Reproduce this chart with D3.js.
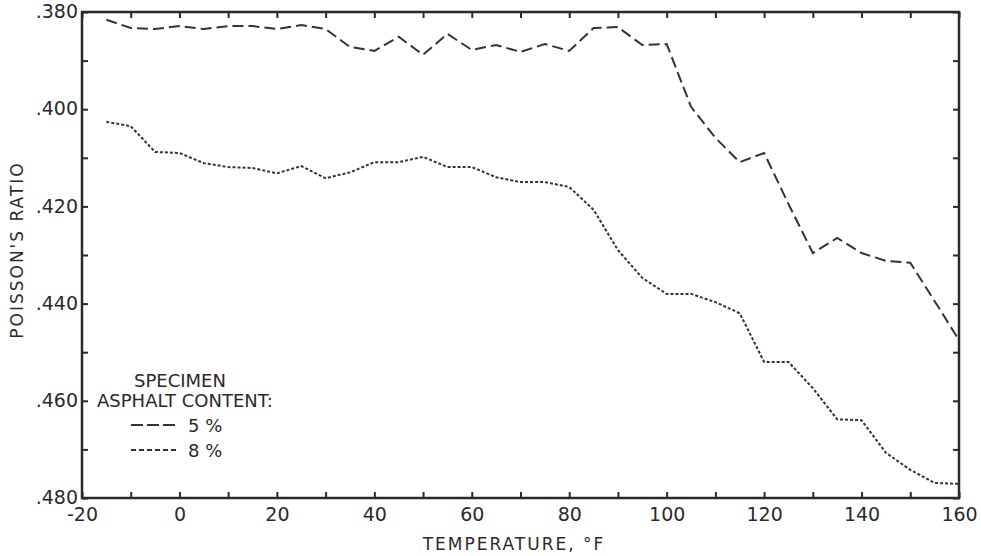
<!DOCTYPE html>
<html>
<head>
<meta charset="utf-8">
<script src="https://cdn.jsdelivr.net/npm/d3@7"></script>
<style>
  body { margin: 0; background: #fff; }
  svg text { font-family: "DejaVu Sans", sans-serif; fill: #2a2a2a; }
</style>
</head>
<body>
<svg id="chart" width="981" height="556"></svg>
<script>
// temperatures, degrees F
const temps = [-15, -10, -5, 0, 5, 10, 15, 20, 25, 30, 35, 40, 45, 50, 55, 60, 65, 70, 75, 80,
  85, 90, 95, 100, 105, 110, 115, 120, 125, 130, 135, 140, 145, 150, 155, 160];

// Poisson's ratio, 5% asphalt content
const ratio5 = [.3816, .3833, .3835, .3829, .3835, .3829, .3829, .3835, .3827, .3835, .3872, .388,
  .3851, .3888, .3845, .3878, .3868, .3882, .3866, .388, .3833, .3831, .3868, .3866, .3995, .4059,
  .4109, .409, .4195, .4296, .4265, .4296, .4312, .4316, .4395, .4475];

// Poisson's ratio, 8% asphalt content
const ratio8 = [.4026, .4035, .4088, .409, .4111, .4119, .4121, .4132, .4117, .4142, .413, .4109,
  .4109, .4098, .4119, .4119, .414, .415, .415, .416, .4207, .429, .4347, .438, .438, .4397,
  .442, .452, .452, .4574, .4638, .464, .4707, .4742, .4769, .4771];

const xTicks = d3.range(-20, 161, 10);
const yTicks = d3.range(0.38, 0.4801, 0.01);

const margin = { top: 12, right: 22, bottom: 58, left: 82 };
const width = 981, height = 556;
const plotW = width - margin.left - margin.right;
const plotH = height - margin.top - margin.bottom;

const svg = d3.select('#chart');
const g = svg.append('g').attr('transform', `translate(${margin.left},${margin.top})`);

const x = d3.scaleLinear().domain([-20, 160]).range([0, plotW]);
const y = d3.scaleLinear().domain([0.38, 0.48]).range([0, plotH]);

const ink = '#2a2a2a';
const labelX = d => (Math.round(d) % 20 === 0 ? String(Math.round(d)) : '');
const labelY = d => (Math.round(d * 1000) % 20 === 0 ? d3.format('.3f')(d).replace(/^0/, '') : '');

// axes with inward ticks
const xBottom = g.append('g').attr('transform', `translate(0,${plotH})`)
  .call(d3.axisBottom(x).tickValues(xTicks).tickSize(-6).tickSizeOuter(0).tickPadding(10).tickFormat(labelX));
const xTop = g.append('g')
  .call(d3.axisTop(x).tickValues(xTicks).tickSize(-6).tickSizeOuter(0).tickFormat(''));
const yLeft = g.append('g')
  .call(d3.axisLeft(y).tickValues(yTicks).tickSize(-6).tickSizeOuter(0).tickPadding(4).tickFormat(labelY));
const yRight = g.append('g').attr('transform', `translate(${plotW},0)`)
  .call(d3.axisRight(y).tickValues(yTicks).tickSize(-6).tickSizeOuter(0).tickFormat(''));

[xBottom, xTop, yLeft, yRight].forEach(a => {
  a.select('.domain').remove();
  a.selectAll('.tick line').attr('stroke', ink).attr('stroke-width', 2);
  a.selectAll('.tick text').attr('font-size', 19).style('fill', ink);
});
yLeft.selectAll('.tick text').attr('dy', '0.3em');

// frame
g.append('rect')
  .attr('width', plotW).attr('height', plotH)
  .attr('fill', 'none').attr('stroke', ink).attr('stroke-width', 2.5);

// lines
const line = d3.line()
  .x(d => x(d[0]))
  .y(d => y(d[1]));

const series = [
  { key: '5%', values: temps.map((t, i) => [t, ratio5[i]]), dash: '11,5', legendDash: '12,4' },
  { key: '8%', values: temps.map((t, i) => [t, ratio8[i]]), dash: '3,2', legendDash: '5,3' },
];

g.selectAll('.line').data(series).enter().append('path')
  .attr('class', 'line')
  .attr('fill', 'none')
  .attr('stroke', '#333')
  .attr('stroke-width', 2)
  .attr('stroke-dasharray', d => d.dash)
  .attr('d', d => line(d.values));

// axis titles
svg.append('text')
  .attr('x', 514).attr('y', 550)
  .attr('text-anchor', 'middle').attr('font-size', 17).attr('letter-spacing', 2)
  .text('TEMPERATURE, °F');

svg.append('text')
  .attr('transform', 'translate(23,250) rotate(-90)')
  .attr('text-anchor', 'middle').attr('font-size', 17).attr('letter-spacing', 2)
  .text("POISSON'S RATIO");

// legend
const leg = svg.append('g');
leg.append('text').attr('x', 180).attr('y', 387).attr('text-anchor', 'middle')
  .attr('font-size', 18).text('SPECIMEN');
leg.append('text').attr('x', 97).attr('y', 407)
  .attr('font-size', 18).text('ASPHALT CONTENT:');
series.forEach((s, i) => {
  const yy = 425 + i * 25;
  leg.append('line').attr('x1', 131).attr('x2', 176).attr('y1', yy).attr('y2', yy)
    .attr('stroke', '#333').attr('stroke-width', 2).attr('stroke-dasharray', s.legendDash);
  leg.append('text').attr('x', 188).attr('y', yy + 7).attr('font-size', 18)
    .text(s.key.replace('%', ' %'));
});
</script>
</body>
</html>
